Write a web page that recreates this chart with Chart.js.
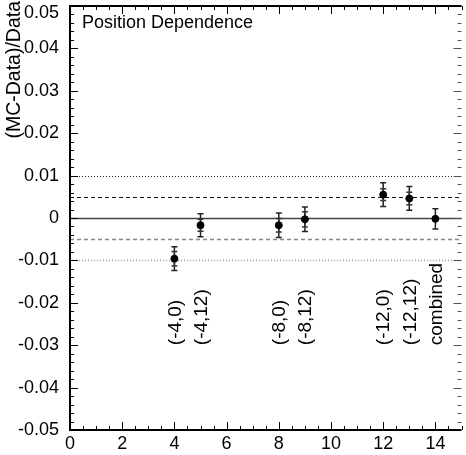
<!DOCTYPE html>
<html><head><meta charset="utf-8">
<script src="https://cdn.jsdelivr.net/npm/chart.js@4.4.1/dist/chart.umd.min.js"></script>
<style>html,body{margin:0;padding:0;background:#fff}#wrap{width:466px;height:455px}</style>
</head><body><div id="wrap"><canvas id="c" width="466" height="455"></canvas></div>
<script>
const xPositions = [4, 5, 8, 9, 12, 13, 14];
const yValues = [-0.0096, -0.0017, -0.0017, -0.0003, 0.0055, 0.0046, -0.0002];
const outerErr = [0.0028, 0.0027, 0.0029, 0.0029, 0.0028, 0.0028, 0.0024];
const innerErr = [0.0017, 0.0014, 0.0016, 0.0018, 0.0014, 0.0015, null];
const pointLabels = ["(-4,0)", "(-4,12)", "(-8,0)", "(-8,12)", "(-12,0)", "(-12,12)", "combined"];
const labelAnchorY = -0.030;
const xTickValues = [0, 2, 4, 6, 8, 10, 12, 14];
const yTickValues = [0.05, 0.04, 0.03, 0.02, 0.01, 0, -0.01, -0.02, -0.03, -0.04, -0.05];
const yTickLabels = ["0.05", "0.04", "0.03", "0.02", "0.01", "0", "-0.01", "-0.02", "-0.03", "-0.04", "-0.05"];
const refLines = [
  {y: 0.01, color: '#222', dash: [1, 2], width: 1},
  {y: 0.005, color: '#111', dash: [4, 3], width: 1},
  {y: 0, color: '#444', dash: [], width: 1.5},
  {y: -0.005, color: '#888', dash: [4, 3], width: 1.5},
  {y: -0.01, color: '#999', dash: [1, 2], width: 1.5}
];
const FONT = '"Liberation Sans", Arial, sans-serif';

const frame = {
  id: 'frame',
  beforeDatasetsDraw(chart) {
    const {ctx, chartArea: a, scales: {x, y}} = chart;
    ctx.save();
    refLines.forEach(l => {
      const py = Math.round(y.getPixelForValue(l.y)) + 0.5;
      ctx.beginPath();
      ctx.setLineDash(l.dash);
      ctx.strokeStyle = l.color; ctx.lineWidth = l.width;
      ctx.moveTo(a.left, py); ctx.lineTo(a.right, py); ctx.stroke();
    });
    ctx.setLineDash([]);
    xPositions.forEach((xv, i) => {
      const px = x.getPixelForValue(xv);
      const draw = (e, col, cap) => {
        const t = y.getPixelForValue(yValues[i] + e), b = y.getPixelForValue(yValues[i] - e);
        ctx.strokeStyle = col; ctx.lineWidth = 1.5;
        ctx.beginPath();
        ctx.moveTo(px, t); ctx.lineTo(px, b);
        ctx.moveTo(px - cap, t); ctx.lineTo(px + cap, t);
        ctx.moveTo(px - cap, b); ctx.lineTo(px + cap, b);
        ctx.stroke();
      };
      draw(outerErr[i], '#222', 3);
      if (innerErr[i] !== null) draw(innerErr[i], '#333', 3);
    });
    ctx.restore();
  },
  afterDraw(chart) {
    const {ctx, chartArea: a, scales: {x, y}} = chart;
    ctx.save();
    ctx.strokeStyle = '#000'; ctx.lineWidth = 1;
    for (let v = 0; v <= 15.001; v += 0.5) {
      const px = Math.round(x.getPixelForValue(v)) + 0.5;
      const major = Math.abs(v / 2 - Math.round(v / 2)) < 1e-6;
      const len = major ? 8 : 4;
      ctx.beginPath();
      ctx.moveTo(px, a.bottom); ctx.lineTo(px, a.bottom - len);
      ctx.moveTo(px, a.top); ctx.lineTo(px, a.top + len);
      ctx.stroke();
    }
    for (let k = -25; k <= 25; k++) {
      const v = k * 0.002;
      const py = Math.round(y.getPixelForValue(v)) + 0.5;
      const major = k % 5 === 0;
      const len = major ? 8 : 4;
      ctx.strokeStyle = '#000';
      ctx.beginPath(); ctx.moveTo(a.left, py); ctx.lineTo(a.left + len, py); ctx.stroke();
      ctx.strokeStyle = '#555';
      ctx.beginPath(); ctx.moveTo(a.right, py); ctx.lineTo(a.right - len, py); ctx.stroke();
    }
    ctx.strokeStyle = '#000'; ctx.lineWidth = 2;
    ctx.beginPath();
    ctx.moveTo(a.right, a.top); ctx.lineTo(a.left, a.top); ctx.lineTo(a.left, a.bottom); ctx.lineTo(a.right, a.bottom);
    ctx.stroke();
    ctx.fillStyle = '#000';
    ctx.font = '18px ' + FONT;
    ctx.textAlign = 'center'; ctx.textBaseline = 'top';
    xTickValues.forEach(v => ctx.fillText(String(v), x.getPixelForValue(v), a.bottom + 5));
    ctx.textAlign = 'right'; ctx.textBaseline = 'middle';
    yTickValues.forEach((v, i) => {
      let py = y.getPixelForValue(v);
      if (i === 0) py += 7;
      ctx.fillText(yTickLabels[i], a.left - 11, py);
    });
    ctx.font = '19px ' + FONT;
    ctx.textAlign = 'left'; ctx.textBaseline = 'middle';
    xPositions.forEach((xv, i) => {
      ctx.save();
      ctx.translate(x.getPixelForValue(xv), y.getPixelForValue(labelAnchorY));
      ctx.rotate(-Math.PI / 2);
      ctx.fillText(pointLabels[i], 0, 1);
      ctx.restore();
    });
    ctx.font = '18px ' + FONT;
    ctx.textAlign = 'left'; ctx.textBaseline = 'alphabetic';
    ctx.fillText('Position Dependence', 82, 28);
    ctx.save();
    ctx.font = '19.5px ' + FONT;
    ctx.translate(15, 1);
    ctx.rotate(-Math.PI / 2);
    ctx.textAlign = 'right'; ctx.textBaseline = 'middle';
    ctx.fillText('(MC-Data)/Data', 0, 0);
    ctx.restore();
    ctx.restore();
  }
};

new Chart(document.getElementById('c'), {
  type: 'scatter',
  data: {
    datasets: [{
      data: xPositions.map((xv, i) => ({x: xv, y: yValues[i]})),
      backgroundColor: '#000', borderColor: '#000', pointRadius: 3.5, pointHoverRadius: 3.5
    }]
  },
  options: {
    responsive: false, animation: false, events: [],
    layout: {padding: {left: 70, top: 6, right: 0, bottom: 25}},
    plugins: {legend: {display: false}, tooltip: {enabled: false}},
    scales: {
      x: {type: 'linear', min: 0, max: 15, display: false},
      y: {type: 'linear', min: -0.05, max: 0.05, display: false}
    }
  },
  plugins: [frame]
});
</script></body></html>
